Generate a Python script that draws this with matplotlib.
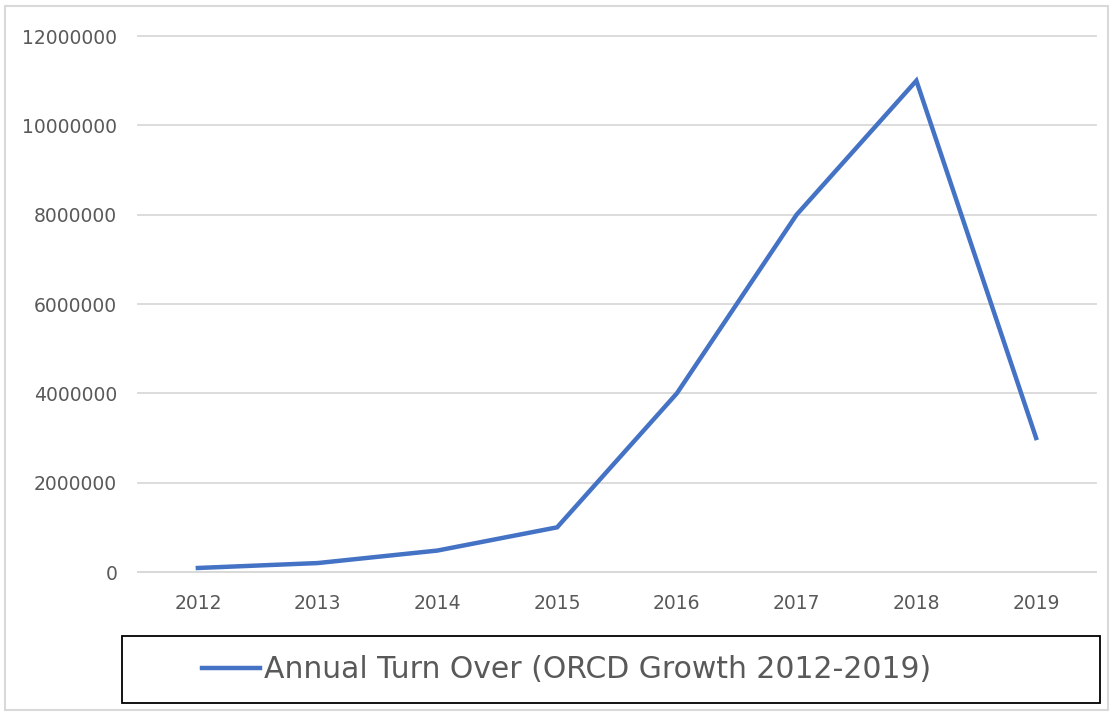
import matplotlib.pyplot as plt
from matplotlib.patches import Rectangle

years = ['2012', '2013', '2014', '2015', '2016', '2017', '2018', '2019']
turnover = [90000, 200000, 480000, 1000000, 4000000, 8000000, 11000000, 3000000]
yticks = [0, 2000000, 4000000, 6000000, 8000000, 10000000, 12000000]
series_name = 'Annual Turn Over (ORCD Growth 2012-2019)'

blue = '#4472C4'
grey = '#595959'
grid = '#d9d9d9'

fig = plt.figure(figsize=(11.13, 7.17), dpi=100)
ax = fig.add_axes([138/1113, 1-572/717, 958/1113, 536/717])

x = list(range(len(years)))
line, = ax.plot(x, turnover, color=blue, linewidth=3.2, solid_joinstyle='miter',
                label=series_name, zorder=3)

ax.set_xlim(-0.5, len(years) - 0.5)
ax.set_ylim(0, 12000000)
ax.set_xticks(x)
ax.set_xticklabels(years)
ax.set_yticks(yticks)
ax.set_yticklabels([str(v) for v in yticks])
ax.yaxis.grid(True, color=grid, linewidth=1.3)
for gl in ax.get_ygridlines():
    gl.set_clip_on(False)
ax.set_axisbelow(True)
for s in ['top', 'right', 'left']:
    ax.spines[s].set_visible(False)
ax.spines['bottom'].set_color(grid)
ax.spines['bottom'].set_linewidth(1.3)
ax.tick_params(axis='both', length=0, colors=grey, labelsize=13.5)
ax.tick_params(axis='y', pad=15)
ax.tick_params(axis='x', pad=16)

# outer chart border
fig.patches.append(Rectangle((5/1113, 1-710/717), 1103/1113, 704/717,
                             transform=fig.transFigure, fill=False,
                             edgecolor=grid, linewidth=1.5))
# legend box
fig.patches.append(Rectangle((122/1113, 1-703/717), 978/1113, 67/717,
                             transform=fig.transFigure, fill=False,
                             edgecolor='black', linewidth=1.3))

leg = fig.legend(handles=[line], loc='center', bbox_to_anchor=(0.509, 1-669.5/717),
                 frameon=False, handlelength=1.94, handletextpad=0.13,
                 prop={'family': 'DejaVu Sans', 'size': 21.5})
for t in leg.get_texts():
    t.set_color(grey)

fig.savefig('out.png', dpi=100)
